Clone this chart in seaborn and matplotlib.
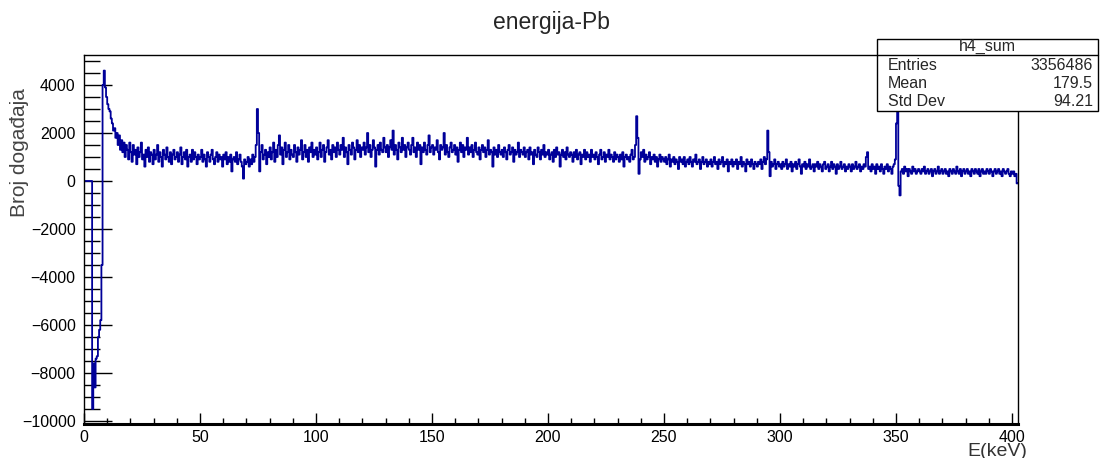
import numpy as np
import pandas as pd
import seaborn as sns
import matplotlib.pyplot as plt
from matplotlib.patches import Rectangle
from matplotlib.ticker import MultipleLocator

# histogram h4_sum, 0.5 keV bins starting at 0 keV (counts)
counts = [
    0, 0, 0, 0, 0, 0, 0, -9500, -7600, -8600, -7400, -7300, -6500, -6200, -5800, -3500, 4000, 4600, 3900, 3500,
    3200, 3000, 2900, 2600, 2400, 2100, 2200, 1800, 2000, 1500, 1900, 1300, 1700, 1200, 1600, 1000, 1500, 1300, 900, 1600,
    1200, 800, 1500, 1100, 1300, 700, 1400, 1000, 1200, 1600, 900, 1100, 600, 1300, 1000, 1400, 800, 1200, 1100, 700,
    1300, 900, 1100, 1500, 800, 1200, 1000, 600, 1300, 1100, 900, 1400, 1000, 800, 1200, 700, 1100, 1300, 900, 1000,
    1200, 800, 1100, 1400, 700, 1000, 1200, 900, 1300, 600, 1000, 1100, 800, 1300, 900, 1200, 1000, 700, 1100, 900,
    1000, 1300, 800, 1100, 900, 600, 1200, 1000, 800, 1100, 1300, 900, 700, 1000, 1200, 800, 1100, 900, 1000, 600,
    1100, 900, 1200, 700, 1000, 800, 1100, 400, 900, 1000, 800, 1200, 700, 900, 1100, 800, 600, 100, 900, 700,
    800, 1000, 600, 900, 700, 1100, 800, 1000, 1500, 3000, 2000, 400, 1200, 1500, 900, 1100, 1300, 700, 1200, 1000,
    1400, 900, 1200, 1600, 800, 1300, 1000, 1500, 1900, 1100, 1400, 700, 1300, 1600, 1000, 1200, 1500, 900, 1300, 1100,
    1000, 1500, 1200, 800, 1400, 1100, 1300, 1700, 900, 1200, 1500, 1000, 1300, 800, 1400, 1200, 1600, 1000, 1300, 1100,
    1400, 900, 1200, 1600, 1000, 1300, 1500, 800, 1200, 1400, 1700, 1100, 1300, 900, 1500, 1200, 1400, 1000, 1600, 1300,
    1100, 1500, 1300, 1800, 1000, 1400, 1200, 700, 1500, 1300, 1100, 1600, 1400, 900, 1300, 1700, 1200, 1500, 1000, 1400,
    1300, 1600, 1100, 1400, 2000, 1200, 1500, 1000, 1300, 1700, 1400, 600, 1300, 1500, 1100, 1600, 1300, 1200, 1800, 1400,
    1200, 1500, 1000, 1400, 1700, 1300, 2100, 1100, 1500, 1300, 900, 1600, 1400, 1200, 1800, 1300, 1500, 1000, 1400, 1600,
    1300, 1100, 1500, 1800, 1200, 1400, 1000, 1600, 1300, 1500, 700, 1400, 1200, 1600, 1300, 1100, 1500, 1900, 1200, 1400,
    1500, 1100, 1400, 1300, 1700, 1200, 900, 1500, 1300, 1400, 2000, 1100, 1500, 1200, 1000, 1400, 1600, 1200, 1300, 1500,
    1100, 1400, 800, 1300, 1600, 1200, 1500, 1000, 1400, 1300, 1800, 1100, 1400, 1200, 1500, 1000, 1300, 1600, 1200, 1100,
    1400, 900, 1300, 1500, 1200, 1400, 1000, 1300, 1700, 1100, 1300, 1200, 600, 1400, 1100, 1300, 1000, 1500, 1200, 1100,
    1300, 1000, 1400, 1200, 900, 1300, 1500, 1100, 1200, 1400, 800, 1300, 1100, 1200, 1600, 1000, 1300, 1200, 1100, 1400,
    1000, 1200, 1300, 900, 1400, 1100, 1200, 700, 1300, 1100, 1000, 1400, 1200, 900, 1300, 1100, 1500, 1000, 1200, 1100,
    1300, 900, 1100, 1200, 800, 1300, 1000, 1400, 1100, 1200, 600, 1100, 1300, 1000, 1200, 900, 1400, 1100, 1000, 1200,
    1100, 800, 1200, 1000, 1300, 900, 1100, 1200, 700, 1100, 1000, 1300, 900, 1200, 1000, 1100, 800, 1300, 1000, 1100,
    900, 1200, 1000, 700, 1100, 1300, 900, 1000, 1200, 800, 1100, 1000, 1300, 900, 1100, 1000, 800, 1200, 900, 1100,
    1000, 800, 1100, 900, 1200, 600, 1000, 1100, 900, 1000, 800, 1100, 1300, 900, 1000, 1500, 2700, 1800, 300, 900,
    1200, 1000, 1300, 800, 1100, 900, 1000, 1200, 700, 1000, 900, 1100, 800, 1000, 600, 900, 1100, 800, 1000, 900,
    800, 1000, 700, 900, 1100, 600, 900, 800, 1000, 700, 900, 800, 500, 1000, 800, 900, 700, 1000, 600, 800,
    900, 700, 1000, 800, 600, 900, 800, 1100, 700, 800, 900, 500, 800, 1000, 700, 800, 900, 600, 800, 700,
    900, 600, 800, 1000, 700, 800, 500, 900, 700, 800, 1000, 600, 800, 700, 900, 400, 800, 700, 900, 600,
    800, 700, 900, 500, 800, 700, 1000, 600, 800, 700, 400, 900, 700, 800, 600, 900, 700, 500, 800, 700,
    600, 800, 700, 900, 500, 800, 1000, 700, 900, 2100, 1200, 200, 800, 600, 700, 900, 500, 700, 800, 600,
    700, 500, 800, 600, 700, 900, 500, 700, 600, 800, 400, 700, 600, 800, 500, 700, 900, 600, 300, 700,
    600, 800, 500, 700, 600, 900, 500, 600, 700, 400, 700, 600, 800, 500, 700, 600, 400, 700, 800, 500,
    600, 700, 400, 600, 800, 500, 700, 600, 300, 700, 500, 600, 800, 500, 600, 700, 400, 600, 500, 700,
    600, 400, 700, 500, 600, 800, 500, 600, 700, 400, 600, 500, 700, 600, 1000, 1200, 500, 600, 400, 700,
    500, 600, 300, 700, 500, 600, 400, 700, 500, 300, 600, 500, 700, 400, 600, 500, 300, 600, 700, 900,
    2400, 3100, -200, -600, 400, 500, 300, 600, 400, 500, 200, 500, 400, 300, 600, 400, 500, 300, 400, 500,
    400, 300, 500, 400, 600, 300, 400, 500, 300, 400, 500, 200, 400, 500, 300, 400, 600, 300, 400, 500,
    300, 400, 500, 300, 400, 200, 500, 400, 300, 500, 400, 300, 600, 400, 300, 500, 200, 400, 500, 300,
    400, 500, 300, 400, 200, 500, 400, 300, 500, 400, 300, 500, 200, 400, 500, 300, 400, 300, 500, 400,
    300, 500, 400, 200, 400, 500, 300, 400, 500, 300, 400, 200, 500, 400, 300, 400, 500, 300, 200, 400,
    300, 400, 200, 300, -100,
]
bin_width = 0.5
stats_title = "h4_sum"
stats_names = ["Entries", "Mean", "Std Dev"]
stats_values = ["3356486", "179.5", "94.21"]

edges = np.arange(len(counts) + 1) * bin_width
df = pd.DataFrame({"E": edges, "n": counts + [counts[-1]]})

sns.set_style("ticks")
plt.rcParams["font.family"] = ["Liberation Sans", "DejaVu Sans"]

fig = plt.figure(figsize=(11.03, 4.58), dpi=100)
ax = fig.add_axes([84 / 1103, 1 - 424 / 458, (1018 - 84) / 1103, (424 - 55) / 458])

sns.lineplot(data=df, x="E", y="n", ax=ax, drawstyle="steps-post",
             estimator=None, color="#000099", linewidth=1.3)

ax.set_xlim(0, 402.6)
ax.set_ylim(-10125, 5250)
ax.xaxis.set_major_locator(MultipleLocator(50))
ax.xaxis.set_minor_locator(MultipleLocator(10))
ax.yaxis.set_major_locator(MultipleLocator(2000))
ax.yaxis.set_minor_locator(MultipleLocator(500))
ax.tick_params(axis="x", which="major", direction="in", length=8, width=1,
               labelsize=11.5, pad=4, bottom=True, top=False, colors="black")
ax.tick_params(axis="x", which="minor", direction="in", length=4.3, width=1,
               bottom=True, top=False, colors="black")
ax.tick_params(axis="y", which="major", direction="in", length=20, width=1,
               labelsize=11.5, pad=6, left=True, right=False, colors="black")
ax.tick_params(axis="y", which="minor", direction="in", length=11.5, width=1,
               left=True, right=False, colors="black")
for s in ax.spines.values():
    s.set_visible(True)
    s.set_color("black")
    s.set_linewidth(1)
ax.spines["bottom"].set_linewidth(2.2)

ax.set_xlabel("")
ax.set_ylabel("")
fig.text(1027 / 1103, 1 - 451 / 458, "E(keV)", ha="right", va="center",
         fontsize=14, color="#333333")
fig.text(20 / 1103, 1 - 153 / 458, "Broj događaja", rotation=90, ha="center",
         va="center", fontsize=15, color="#444444")
fig.text(0.5, 1 - 22 / 458, "energija-Pb", ha="center", va="center", fontsize=16.5)

# stats box
bx0, bx1, by0, by1, hy = 877, 1098, 39, 111, 55
fig.patches.append(Rectangle((bx0 / 1103, 1 - by1 / 458), (bx1 - bx0) / 1103,
                             (by1 - by0) / 458, transform=fig.transFigure,
                             facecolor="white", edgecolor="black", linewidth=1,
                             zorder=5))
fig.add_artist(plt.Line2D([bx0 / 1103, bx1 / 1103], [1 - hy / 458, 1 - hy / 458],
                          transform=fig.transFigure, color="black", linewidth=1,
                          zorder=6))
fig.text((bx0 + bx1) / 2 / 1103, 1 - 46 / 458, stats_title, ha="center",
         va="center", fontsize=11.5, zorder=7)
for i, (name, val) in enumerate(zip(stats_names, stats_values)):
    yy = 1 - (65 + i * 18.5) / 458
    fig.text(888 / 1103, yy, name, ha="left", va="center", fontsize=11.5, zorder=7)
    fig.text(1093 / 1103, yy, val, ha="right", va="center", fontsize=11.5, zorder=7)

fig.savefig("out.png", dpi=100)
